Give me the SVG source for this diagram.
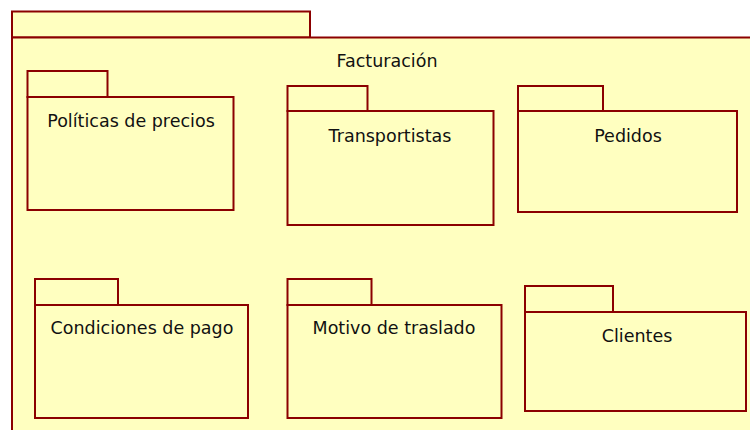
<svg xmlns="http://www.w3.org/2000/svg" width="750" height="430" viewBox="0 0 750 430">
<style>
.pk{fill:#FFFFC0;stroke:#8B0000;stroke-width:2}
.lb{font-family:"DejaVu Sans","Verdana",sans-serif;font-size:17.5px;fill:#111;text-anchor:middle}
</style>
<rect x="0" y="0" width="750" height="430" fill="#FFFFFF"/>
<g id="facturacion">
<rect class="pk" x="12" y="11.5" width="298" height="26"/>
<rect class="pk" x="12" y="37.5" width="800" height="450"/>
<text class="lb" x="387" y="67">Facturación</text>
</g>
<g id="politicas">
<rect class="pk" x="27.5" y="71" width="80" height="26"/>
<rect class="pk" x="27.5" y="97" width="206" height="113"/>
<text class="lb" x="131" y="127">Políticas de precios</text>
</g>
<g id="transportistas">
<rect class="pk" x="287.5" y="86" width="80" height="25"/>
<rect class="pk" x="287.5" y="111" width="206" height="114"/>
<text class="lb" x="390" y="142">Transportistas</text>
</g>
<g id="pedidos">
<rect class="pk" x="518" y="86" width="85" height="25"/>
<rect class="pk" x="518" y="111" width="219" height="101"/>
<text class="lb" x="628" y="142">Pedidos</text>
</g>
<g id="condiciones">
<rect class="pk" x="35" y="279" width="83" height="26"/>
<rect class="pk" x="35" y="305" width="213" height="113"/>
<text class="lb" x="142" y="334">Condiciones de pago</text>
</g>
<g id="motivo">
<rect class="pk" x="287.5" y="279" width="84" height="26"/>
<rect class="pk" x="287.5" y="305" width="214" height="113"/>
<text class="lb" x="394" y="334">Motivo de traslado</text>
</g>
<g id="clientes">
<rect class="pk" x="525" y="286" width="88" height="26"/>
<rect class="pk" x="525" y="312" width="221" height="99"/>
<text class="lb" x="637" y="342">Clientes</text>
</g>
<g id="connectors"></g>
</svg>
